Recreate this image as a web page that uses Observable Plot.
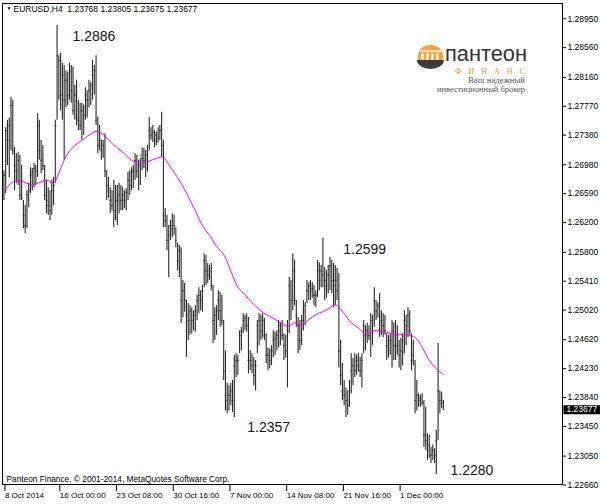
<!DOCTYPE html>
<html><head><meta charset="utf-8">
<script src="https://cdn.jsdelivr.net/npm/d3@7"></script>
<script src="https://cdn.jsdelivr.net/npm/@observablehq/plot@0.6"></script>
<style>
body{margin:0;background:#fff;}
#wrap{position:relative;width:600px;height:504px;overflow:hidden;}
</style></head><body>
<div id="wrap"></div>
<script>
// EURUSD H4 bars, 8 Oct 2014 20:00 .. 5 Dec 2014 04:00 (index = bar number)
const highs = [
1.2690,1.2748,1.2758,1.2761,1.2789,1.2785,1.2721,1.2713,1.2715,1.2711,
1.2697,1.2650,1.2643,1.2663,1.2673,1.2694,1.2693,1.2700,1.2697,1.2767,
1.2758,1.2731,1.2724,1.2697,1.2677,1.2667,1.2663,1.2677,1.2681,1.2758,
1.2886,1.2845,1.2848,1.2835,1.2832,1.2825,1.2823,1.2835,1.2832,1.2830,
1.2805,1.2812,1.2785,1.2781,1.2781,1.2778,1.2802,1.2798,1.2812,1.2809,
1.2839,1.2832,1.2845,1.2762,1.2751,1.2731,1.2731,1.2740,1.2690,1.2681,
1.2667,1.2663,1.2677,1.2670,1.2670,1.2673,1.2670,1.2667,1.2663,1.2666,
1.2688,1.2690,1.2694,1.2697,1.2713,1.2711,1.2704,1.2707,1.2721,1.2720,
1.2717,1.2724,1.2762,1.2748,1.2751,1.2744,1.2742,1.2748,1.2751,1.2769,
1.2731,1.2639,1.2630,1.2616,1.2623,1.2632,1.2630,1.2613,1.2592,1.2589,
1.2586,1.2542,1.2538,1.2515,1.2511,1.2508,1.2505,1.2501,1.2508,1.2522,
1.2532,1.2528,1.2535,1.2578,1.2576,1.2565,1.2562,1.2565,1.2535,1.2505,
1.2508,1.2528,1.2526,1.2522,1.2488,1.2447,1.2403,1.2400,1.2403,1.2407,
1.2441,1.2443,1.2441,1.2474,1.2479,1.2497,1.2495,1.2497,1.2492,1.2447,
1.2443,1.2438,1.2434,1.2488,1.2497,1.2495,1.2497,1.2491,1.2470,1.2451,
1.2450,1.2454,1.2474,1.2472,1.2474,1.2488,1.2485,1.2488,1.2470,1.2468,
1.2488,1.2546,1.2542,1.2578,1.2569,1.2515,1.2492,1.2488,1.2495,1.2515,
1.2512,1.2542,1.2539,1.2542,1.2539,1.2535,1.2528,1.2569,1.2566,1.2562,
1.2599,1.2559,1.2555,1.2562,1.2573,1.2569,1.2565,1.2562,1.2558,1.2551,
1.2461,1.2430,1.2407,1.2397,1.2393,1.2407,1.2443,1.2437,1.2443,1.2441,
1.2443,1.2438,1.2443,1.2488,1.2481,1.2484,1.2481,1.2497,1.2495,1.2532,
1.2515,1.2512,1.2524,1.2501,1.2497,1.2495,1.2470,1.2468,1.2470,1.2488,
1.2485,1.2488,1.2481,1.2461,1.2464,1.2470,1.2501,1.2495,1.2505,1.2501,
1.2470,1.2461,1.2434,1.2407,1.2389,1.2387,1.2389,1.2380,1.2371,1.2335,
1.2333,1.2317,1.2320,1.2315,1.2340,1.2457,1.2393,1.2391,1.23805];
const lows = [
1.2650,1.2659,1.2697,1.2681,1.2717,1.2711,1.2663,1.2673,1.2670,1.2650,
1.2650,1.2612,1.2605,1.2612,1.2640,1.2659,1.2663,1.2667,1.2670,1.2681,
1.2704,1.2686,1.2690,1.2650,1.2632,1.2630,1.2623,1.2630,1.2643,1.2673,
1.2758,1.2785,1.2771,1.2758,1.2704,1.2775,1.2778,1.2785,1.2781,1.2765,
1.2758,1.2751,1.2744,1.2744,1.2731,1.2738,1.2758,1.2761,1.2775,1.2778,
1.2785,1.2792,1.2751,1.2713,1.2717,1.2704,1.2707,1.2681,1.2650,1.2653,
1.2632,1.2636,1.2613,1.2623,1.2616,1.2632,1.2636,1.2636,1.2639,1.2636,
1.2650,1.2657,1.2663,1.2666,1.2677,1.2680,1.2663,1.2670,1.2690,1.2693,
1.2681,1.2688,1.2717,1.2731,1.2728,1.2721,1.2724,1.2727,1.2731,1.2708,
1.2613,1.2613,1.2582,1.2546,1.2596,1.2600,1.2603,1.2586,1.2555,1.2546,
1.2484,1.2492,1.2499,1.2438,1.2461,1.2468,1.2470,1.2474,1.2472,1.2488,
1.2497,1.2501,1.2499,1.2532,1.2535,1.2538,1.2542,1.2528,1.2457,1.2461,
1.2468,1.2488,1.2479,1.2481,1.2407,1.2366,1.2362,1.2366,1.2373,1.2364,
1.2357,1.2411,1.2414,1.2443,1.2447,1.2470,1.2474,1.2472,1.2416,1.2420,
1.2416,1.2400,1.2393,1.2443,1.2454,1.2461,1.2464,1.2461,1.2430,1.2420,
1.2423,1.2427,1.2438,1.2441,1.2447,1.2451,1.2454,1.2461,1.2434,1.2437,
1.2397,1.2470,1.2488,1.2501,1.2508,1.2479,1.2443,1.2447,1.2454,1.2474,
1.2481,1.2511,1.2515,1.2515,1.2518,1.2508,1.2505,1.2519,1.2528,1.2532,
1.2532,1.2515,1.2518,1.2524,1.2528,1.2524,1.2505,1.2508,1.2515,1.2424,
1.2400,1.2380,1.2373,1.2357,1.2360,1.2371,1.2389,1.2400,1.2411,1.2414,
1.2418,1.2411,1.2397,1.2443,1.2447,1.2457,1.2461,1.2438,1.2454,1.2479,
1.2488,1.2491,1.2465,1.2468,1.2465,1.2468,1.2434,1.2437,1.2441,1.2424,
1.2434,1.2434,1.2441,1.2424,1.2420,1.2427,1.2443,1.2454,1.2465,1.2468,
1.2420,1.2427,1.2362,1.2366,1.2371,1.2371,1.2373,1.2317,1.2313,1.2299,
1.2302,1.2295,1.2299,1.2295,1.2280,1.2326,1.2362,1.2369,1.23675];
const closes = [
1.2684,1.2744,1.2731,1.2751,1.2778,1.2717,1.2697,1.2690,1.2704,1.2657,
1.2653,1.2630,1.2616,1.2657,1.2663,1.2684,1.2688,1.2693,1.2690,1.2751,
1.2717,1.2704,1.2697,1.2657,1.2650,1.2643,1.2636,1.2663,1.2670,1.2751,
1.2845,1.2839,1.2792,1.2819,1.2785,1.2812,1.2792,1.2825,1.2798,1.2771,
1.2792,1.2761,1.2758,1.2751,1.2771,1.2765,1.2792,1.2785,1.2798,1.2805,
1.2819,1.2825,1.2758,1.2724,1.2731,1.2717,1.2724,1.2690,1.2670,1.2663,
1.2650,1.2643,1.2636,1.2650,1.2650,1.2657,1.2650,1.2657,1.2650,1.2661,
1.2677,1.2670,1.2688,1.2690,1.2704,1.2690,1.2697,1.2711,1.2707,1.2704,
1.2711,1.2717,1.2744,1.2738,1.2742,1.2731,1.2738,1.2734,1.2744,1.2724,
1.2630,1.2623,1.2596,1.2603,1.2616,1.2612,1.2616,1.2596,1.2569,1.2582,
1.2515,1.2528,1.2515,1.2495,1.2488,1.2501,1.2488,1.2495,1.2501,1.2515,
1.2522,1.2515,1.2528,1.2569,1.2555,1.2549,1.2555,1.2535,1.2488,1.2495,
1.2501,1.2515,1.2501,1.2488,1.2420,1.2387,1.2380,1.2387,1.2393,1.2380,
1.2427,1.2434,1.2434,1.2468,1.2474,1.2488,1.2491,1.2481,1.2434,1.2434,
1.2427,1.2414,1.2427,1.2481,1.2488,1.2474,1.2488,1.2468,1.2441,1.2441,
1.2434,1.2447,1.2461,1.2464,1.2468,1.2474,1.2481,1.2468,1.2454,1.2447,
1.2474,1.2535,1.2515,1.2555,1.2515,1.2495,1.2481,1.2461,1.2488,1.2501,
1.2508,1.2528,1.2535,1.2528,1.2531,1.2522,1.2522,1.2555,1.2542,1.2555,
1.2549,1.2542,1.2535,1.2549,1.2562,1.2542,1.2535,1.2542,1.2528,1.2447,
1.2414,1.2393,1.2387,1.2380,1.2373,1.2393,1.2420,1.2427,1.2420,1.2434,
1.2427,1.2420,1.2434,1.2481,1.2468,1.2474,1.2468,1.2488,1.2474,1.2515,
1.2501,1.2508,1.2474,1.2488,1.2481,1.2474,1.2454,1.2447,1.2461,1.2474,
1.2454,1.2468,1.2454,1.2441,1.2447,1.2461,1.2488,1.2481,1.2495,1.2474,
1.2434,1.2441,1.2380,1.2387,1.2380,1.2383,1.2377,1.2333,1.2326,1.2313,
1.2320,1.2306,1.2313,1.2306,1.2326,1.2393,1.2380,1.2377,1.23677];

// moving average (magenta), read at these bar indices
const maIdx = [0,4,8,12,16,20,24,28,30,32,36,40,44,48,52,56,60,64,68,72,76,80,84,88,90,92,96,100,104,108,112,116,120,124,128,132,136,140,144,148,152,156,160,162,164,168,172,176,180,184,186,188,192,196,200,204,208,212,216,220,224,228,232,236,240,244,248];
const maVal = [1.2663,1.2673,1.2677,1.2674,1.2671,1.2674,1.2677,1.2673,1.2681,1.2693,1.2713,1.2724,1.2731,1.2738,1.2743,1.2739,1.2729,1.2721,1.2713,1.2704,1.2701,1.2701,1.2705,1.2708,1.2709,1.2702,1.2688,1.2673,1.2655,1.2636,1.2616,1.2603,1.2588,1.2577,1.2555,1.2533,1.2523,1.2512,1.2503,1.2496,1.2491,1.2485,1.2480,1.2482,1.2485,1.2482,1.2489,1.2496,1.2500,1.2505,1.2509,1.2508,1.2497,1.2485,1.2478,1.2470,1.2474,1.2474,1.2472,1.2470,1.2469,1.2468,1.2465,1.2452,1.2434,1.2423,1.2415];

const yTicks = [1.28950,1.28560,1.28160,1.27770,1.27380,1.26980,1.26590,1.26200,1.25800,1.25410,1.25020,1.24620,1.24230,1.23840,1.23450,1.23050,1.22660];
const timeIdx = [0,31,63,95,127,159,191,223];
const timeLabels = ["8 Oct 2014","16 Oct 00:00","23 Oct 08:00","30 Oct 16:00","7 Nov 00:00","14 Nov 08:00","21 Nov 16:00","1 Dec 00:00"];
const symbol = "EURUSD,H4";
const lastOHLC = [1.23768,1.23805,1.23675,1.23677];
const annIdx = [30,180,130,244];
const annVal = [1.2886,1.2599,1.2357,1.2280];
const copyright = "Panteon Finance, © 2001-2014, MetaQuotes Software Corp.";

const bars = highs.map((h,i)=>({i, high:h, low:lows[i], close:closes[i]}));
const ma = maIdx.map((i,k)=>({i, v:maVal[k]}));
const xMax = 315.2;
const annOff = [[15.4,11],[20.3,11.3],[13,10],[14.2,-4]];

const chart = Plot.plot({
  width:600, height:504,
  marginTop:3, marginRight:38, marginBottom:20, marginLeft:2,
  x:{domain:[-0.8,xMax]},
  y:{domain:[1.22667,1.29156]},
  style:{fontFamily:"'Liberation Sans', Arial, sans-serif", background:"#fff", color:"#000"},
  marks:[
    Plot.ruleY(bars,{y:"close",x1:d=>d.i-0.2,x2:d=>d.i+0.85,stroke:"#666",strokeWidth:1.2}),
    Plot.ruleX(bars,{x:"i",y1:"low",y2:"high",stroke:"#2a2a2a",strokeWidth:1.1}),
    Plot.line(ma,{x:"i",y:"v",stroke:"#ff00ff",strokeWidth:1,curve:"catmull-rom"}),
    Plot.frame({stroke:"#000"}),
    Plot.axisY({anchor:"right",ticks:yTicks,tickFormat:d=>d.toFixed(5),tickSize:3,tickPadding:2,fontSize:8.5,label:null}),
    Plot.axisX({ticks:timeIdx,tickFormat:d=>timeLabels[timeIdx.indexOf(d)],textAnchor:"start",dx:1,tickSize:7,tickPadding:1,fontSize:8,label:null}),
    Plot.ruleY([lastOHLC[3]],{x1:xMax+0.8,x2:xMax+22,stroke:"#000",strokeWidth:9}),
    Plot.text([lastOHLC[3]],{x:xMax,y:d=>d,text:d=>d.toFixed(5),dx:4,textAnchor:"start",fill:"#fff",fontSize:8.5}),
    Plot.text(["▼"],{frameAnchor:"top-left",dx:4,dy:3,lineAnchor:"top",textAnchor:"start",fontSize:5}),
    Plot.text([symbol+"\u00a0 "+lastOHLC.map(v=>v.toFixed(5)).join(" ")],{frameAnchor:"top-left",dx:11,dy:2,lineAnchor:"top",textAnchor:"start",fontSize:8.5}),
    Plot.text([copyright],{frameAnchor:"bottom-left",dx:4,dy:-5.5,lineAnchor:"middle",textAnchor:"start",fontSize:8.3}),
    ...annIdx.map((ix,k)=>Plot.text([k],{x:()=>ix,y:()=>annVal[k],text:()=>annVal[k].toFixed(4),dx:annOff[k][0],dy:annOff[k][1],textAnchor:"start",lineAnchor:"middle",fontSize:14,fill:"#161616"}))
  ]
});
document.getElementById("wrap").appendChild(chart);

// broker logo
const svg = d3.select("#wrap").append("svg").attr("width",600).attr("height",504)
  .style("position","absolute").style("left","0").style("top","0");
const g = svg.append("g");
g.append("path").attr("d","M418,62 L418,56 A12.5,11 0 0 1 443,56 L443,62 Z").attr("fill","#f0a33a");
g.append("rect").attr("x",420).attr("y",50.5).attr("width",21).attr("height",1.6).attr("fill","#fff");
[0,1,2,3].forEach(k=>g.append("rect").attr("x",421.3+k*5).attr("y",53.5).attr("width",2.2).attr("height",7).attr("fill","#fff"));
g.append("path").attr("d","M417,60 L444,60 A13.5,9 0 0 1 417,60 Z").attr("fill","#3c3c3c");
g.append("text").attr("x",445).attr("y",61).attr("font-family","'Liberation Sans', Arial, sans-serif")
  .attr("font-size",22).attr("textLength",82).attr("lengthAdjust","spacingAndGlyphs").attr("fill","#333").text("пантеон");
g.append("text").attr("x",455).attr("y",73.8).attr("font-family","'Liberation Serif', serif")
  .attr("font-size",8.2).attr("textLength",70).attr("lengthAdjust","spacing").attr("fill","#e89a30").text("ФИНАНС");
g.append("text").attr("x",525).attr("y",82.5).attr("text-anchor","end").attr("font-family","'Liberation Serif', serif")
  .attr("font-size",8.8).attr("textLength",57).attr("lengthAdjust","spacingAndGlyphs").attr("fill","#555").text("Ваш надежный");
g.append("text").attr("x",525).attr("y",92.3).attr("text-anchor","end").attr("font-family","'Liberation Serif', serif")
  .attr("font-size",8.8).attr("textLength",88).attr("lengthAdjust","spacingAndGlyphs").attr("fill","#555").text("инвестиционный брокер");
</script>
</body></html>
